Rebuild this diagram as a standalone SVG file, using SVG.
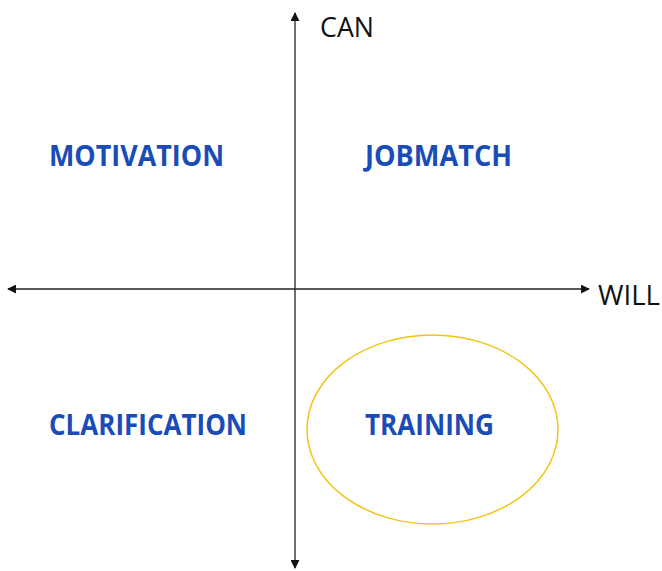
<svg xmlns="http://www.w3.org/2000/svg" width="662" height="571" viewBox="0 0 662 571">
<style>
.q{font-family:"Open Sans","Liberation Sans",sans-serif;font-weight:bold;font-size:28px;fill:#1A4CB8}
.ax{font-family:"Open Sans","Liberation Sans",sans-serif;font-size:27px;fill:#111}
.axis{stroke:#222;stroke-width:1.3;fill:none}
</style>
<defs>
<marker id="ah" viewBox="0 0 10 10" refX="9" refY="5" markerWidth="9" markerHeight="9" markerUnits="userSpaceOnUse" orient="auto-start-reverse">
<path d="M0,0 L10,5 L0,10 Z" fill="#111"/>
</marker>
</defs>
<rect width="662" height="571" fill="#fff"/>
<g id="connectors">
<line class="axis" x1="295" y1="568" x2="295" y2="13" marker-start="url(#ah)" marker-end="url(#ah)"/>
<line class="axis" x1="8" y1="289" x2="589" y2="289" marker-start="url(#ah)" marker-end="url(#ah)"/>
</g>
<g id="can"><text class="ax" x="320" y="37" textLength="54" lengthAdjust="spacingAndGlyphs">CAN</text></g>
<g id="will"><text class="ax" x="598" y="305" textLength="62" lengthAdjust="spacingAndGlyphs">WILL</text></g>
<g id="motivation"><text class="q" x="49" y="166" textLength="175" lengthAdjust="spacingAndGlyphs">MOTIVATION</text></g>
<g id="jobmatch"><text class="q" x="365" y="166" textLength="147" lengthAdjust="spacingAndGlyphs">JOBMATCH</text></g>
<g id="clarification"><text class="q" x="49" y="435" textLength="198" lengthAdjust="spacingAndGlyphs">CLARIFICATION</text></g>
<g id="training">
<ellipse cx="432.5" cy="429.5" rx="125.5" ry="94.5" fill="none" stroke="#F2C417" stroke-width="1.5"/>
<text class="q" x="365" y="435" textLength="129" lengthAdjust="spacingAndGlyphs">TRAINING</text>
</g>
</svg>
